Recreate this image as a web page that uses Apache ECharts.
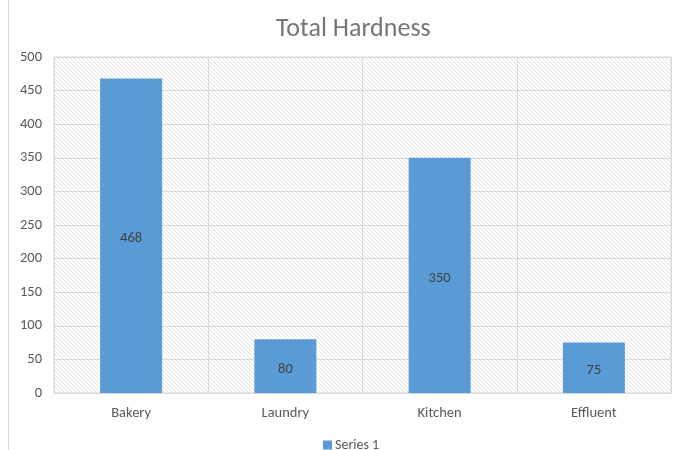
<!DOCTYPE html>
<html>
<head>
<meta charset="utf-8">
<script src="https://cdn.jsdelivr.net/npm/echarts@6/dist/echarts.min.js"></script>
<style>
  html, body { margin: 0; padding: 0; background: #fff; }
  #chart { width: 676px; height: 450px; }
</style>
</head>
<body>
<div id="chart"></div>
<script>
const categories = ['Bakery', 'Laundry', 'Kitchen', 'Effluent']
const series1 = [468, 80, 350, 75]

const fontFamily = 'Calibri, Carlito, "Liberation Sans", "Open Sans", sans-serif'

// fine diagonal hatch for the plot area
function hatch () {
  const c = document.createElement('canvas')
  c.width = 4
  c.height = 4
  const ctx = c.getContext('2d')
  ctx.fillStyle = '#fff'
  ctx.fillRect(0, 0, 4, 4)
  ctx.strokeStyle = '#e3e3e3'
  ctx.lineWidth = 1
  ctx.beginPath()
  ctx.moveTo(-1, -1); ctx.lineTo(5, 5)
  ctx.moveTo(-3, 1); ctx.lineTo(3, 7)
  ctx.moveTo(1, -3); ctx.lineTo(7, 3)
  ctx.stroke()
  return c
}

const chart = echarts.init(document.getElementById('chart'))
chart.setOption({
  animation: false,
  title: {
    text: 'Total Hardness',
    left: 271,
    top: 11,
    textStyle: { color: '#757575', fontWeight: 'normal', fontSize: 26, fontFamily }
  },
  legend: {
    top: 433,
    left: 318,
    itemWidth: 9,
    itemHeight: 9,
    itemGap: 4,
    icon: 'rect',
    textStyle: { color: '#595959', fontSize: 14, fontFamily, padding: [0, 0, 0, -2] },
    data: ['Series 1']
  },
  grid: {
    left: 54,
    right: 5,
    top: 57,
    bottom: 57,
    show: true,
    borderColor: '#d9d9d9',
    borderWidth: 1,
    backgroundColor: { image: hatch(), repeat: 'repeat' }
  },
  graphic: [{
    type: 'line',
    shape: { x1: 8.5, y1: 0, x2: 8.5, y2: 450 },
    style: { stroke: '#d9d9d9', lineWidth: 1 }
  }],
  xAxis: {
    type: 'category',
    data: categories,
    axisLine: { lineStyle: { color: '#d9d9d9' } },
    axisTick: { show: false },
    splitLine: { show: true, lineStyle: { color: '#d9d9d9' } },
    axisLabel: { color: '#595959', fontSize: 14.5, margin: 13, fontFamily }
  },
  yAxis: {
    type: 'value',
    min: 0,
    max: 500,
    interval: 50,
    axisLine: { show: false },
    axisTick: { show: false },
    splitLine: { lineStyle: { color: '#d9d9d9' } },
    axisLabel: { color: '#595959', fontSize: 14.5, margin: 12, fontFamily }
  },
  series: [{
    name: 'Series 1',
    type: 'bar',
    barWidth: 62,
    data: series1,
    itemStyle: { color: '#5b9bd5' },
    label: {
      show: true,
      position: 'inside',
      offset: [0, 3],
      color: '#404040',
      fontSize: 14.5,
      fontFamily
    }
  }]
})
</script>
</body>
</html>
